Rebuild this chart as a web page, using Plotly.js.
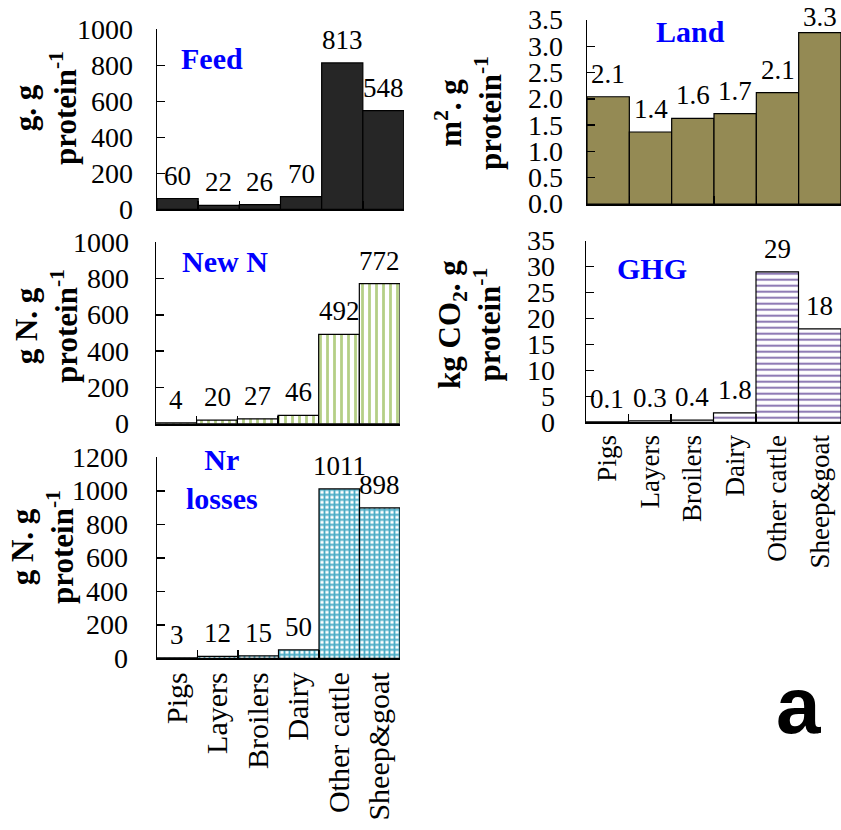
<!DOCTYPE html>
<html><head><meta charset="utf-8">
<script src="https://cdn.plot.ly/plotly-3.0.1.min.js"></script>
<style>body{margin:0;background:#fff}</style>
</head><body><div id="chart" style="width:841px;height:830px"></div>
<script>
const categories = ["Pigs","Layers","Broilers","Dairy","Other cattle","Sheep&goat"];
const feedValues = [60,22,26,70,813,548];
const feedLabels = ["60","22","26","70","813","548"];
const landValues = [2.04,1.37,1.63,1.72,2.12,3.26];
const landLabels = ["2.1","1.4","1.6","1.7","2.1","3.3"];
const newNValues = [4,20,27,46,492,772];
const newNLabels = ["4","20","27","46","492","772"];
const ghgValues = [0.1,0.3,0.4,1.8,29,18];
const ghgLabels = ["0.1","0.3","0.4","1.8","29","18"];
const nrValues = [3,12,15,50,1011,898];
const nrLabels = ["3","12","15","50","1011","898"];

const W = 841, H = 830;
const SERIF = "Liberation Serif, Times New Roman, serif";
const px = v => v / W;
const py = v => 1 - v / H;

const panels = [
  {id:"", vals:feedValues, labels:feedLabels, x:[157,404], y:[29.3,209.3], range:[0,1000], dtick:200, dec:0,
   marker:{color:"#262626", line:{color:"#000", width:1.2}}, ticklabels:false, gap:22, xfont:30,
   title:"Feed", tx:212, ty:58, ytitle:"g. g<br>protein<sup>-1</sup>", yx:45, yy:108},
  {id:"2", vals:landValues, labels:landLabels, x:[587,841], y:[20,204], range:[0,3.5], dtick:0.5, dec:1,
   marker:{color:"#948a54", line:{color:"#000", width:1.2}}, ticklabels:false, gap:22, xfont:27,
   title:"Land", tx:690, ty:31, ytitle:"m<sup>2</sup>. g<br>protein<sup>-1</sup>", yx:469, yy:113},
  {id:"3", vals:newNValues, labels:newNLabels, x:[156,400], y:[242.3,423.7], range:[0,1000], dtick:200, dec:0,
   marker:{color:"#ffffff", line:{color:"#000", width:1.2}, pattern:{shape:"|", fgcolor:"#b5cf86", bgcolor:"#ffffff", size:7, solidity:0.4}}, ticklabels:false, gap:25, xfont:30,
   title:"New N", tx:225, ty:261, ytitle:"g N. g<br>protein<sup>-1</sup>", yx:46, yy:326},
  {id:"4", vals:ghgValues, labels:ghgLabels, x:[586,841], y:[240.7,422.3], range:[0,35], dtick:5, dec:0,
   marker:{color:"#ffffff", line:{color:"#000", width:1.2}, pattern:{shape:"-", fgcolor:"#8f7bb5", bgcolor:"#ffffff", size:6, solidity:0.35}}, ticklabels:true, gap:29, xfont:27,
   title:"GHG", tx:652, ty:268, ytitle:"kg CO<sub>2</sub>. g<br>protein<sup>-1</sup>", yx:469, yy:325},
  {id:"5", vals:nrValues, labels:nrLabels, x:[157,400], y:[457.3,658.3], range:[0,1200], dtick:200, dec:0,
   marker:{color:"#ffffff", line:{color:"#000", width:1.2}, pattern:{shape:"+", fgcolor:"#4bacc6", bgcolor:"#ffffff", size:5, solidity:0.6}}, ticklabels:true, gap:27, xfont:30,
   title:"Nr<br>losses", tx:222, ty:479, ytitle:"g N. g<br>protein<sup>-1</sup>", yx:42, yy:547}
];

const data = [];
const layout = {
  width: W, height: H, margin:{l:0,r:0,t:0,b:0}, showlegend:false,
  paper_bgcolor:"#fff", plot_bgcolor:"rgba(0,0,0,0)", bargap:0,
  font:{family:SERIF, size:28, color:"#000"},
  annotations: []
};

panels.forEach(p => {
  const xa = "xaxis" + p.id, ya = "yaxis" + p.id;
  const xr = "x" + p.id, yr = "y" + p.id;
  data.push({type:"bar", x:categories, y:p.vals, xaxis:xr, yaxis:yr, marker:p.marker, width:1, hoverinfo:"skip", cliponaxis:false});
  layout[xa] = {domain:[px(p.x[0]), px(p.x[1])], anchor:yr, type:"category", range:[-0.5,5.5],
    showline:true, linecolor:"#000", linewidth:2, ticks:"inside", ticklen:8, tickwidth:1.5, tickcolor:"#000",
    tickson:"boundaries", showgrid:false, zeroline:false, showticklabels:p.ticklabels, tickangle:-90,
    tickfont:{family:SERIF, size:p.xfont, color:"#000"}, fixedrange:true};
  layout[ya] = {domain:[py(p.y[1]), py(p.y[0])], anchor:xr, range:p.range, dtick:p.dtick, tick0:0,
    showticklabels:false,
    showline:true, linecolor:"#000", linewidth:1.5, ticks:"inside", ticklen:8, tickwidth:1.5, tickcolor:"#000",
    showgrid:false, zeroline:false, fixedrange:true};
  // y tick labels, placed on the axis scale
  const nT = Math.round(p.range[1] / p.dtick);
  for (let k = 0; k <= nT; k++) {
    const t = k * p.dtick;
    layout.annotations.push({xref:xr + " domain", yref:yr, x:0, y:t, text:t.toFixed(p.dec), showarrow:false,
      xanchor:"right", yanchor:"middle", xshift:-p.gap, font:{family:SERIF, size:28, color:"#000"}});
  }
  p.vals.forEach((v,i) => {
    const nearTop = v / p.range[1] > 0.9;
    layout.annotations.push({xref:xr, yref:yr, x:categories[i], y:v, text:p.labels[i], showarrow:false,
      yanchor:"bottom", xanchor:"center", yshift: nearTop ? -1 : 6, font:{family:SERIF, size:27, color:"#000"}});
  });
  layout.annotations.push({xref:"paper", yref:"paper", x:px(p.tx), y:py(p.ty), text:"<b>"+p.title+"</b>", showarrow:false,
    xanchor:"center", yanchor:"middle", font:{family:SERIF, size:30, color:"#0000ff"}});
  layout.annotations.push({xref:"paper", yref:"paper", x:px(p.yx), y:py(p.yy), text:"<b>"+p.ytitle+"</b>", showarrow:false,
    textangle:-90, xanchor:"center", yanchor:"middle", font:{family:SERIF, size:31, color:"#000"}});
});

layout.annotations.push({xref:"paper", yref:"paper", x:px(798), y:py(705), text:"<b>a</b>", showarrow:false,
  xanchor:"center", yanchor:"middle", font:{family:"Liberation Sans, Arial, sans-serif", size:80, color:"#000"}});

Plotly.newPlot("chart", data, layout, {displayModeBar:false, staticPlot:true});
</script></body></html>
